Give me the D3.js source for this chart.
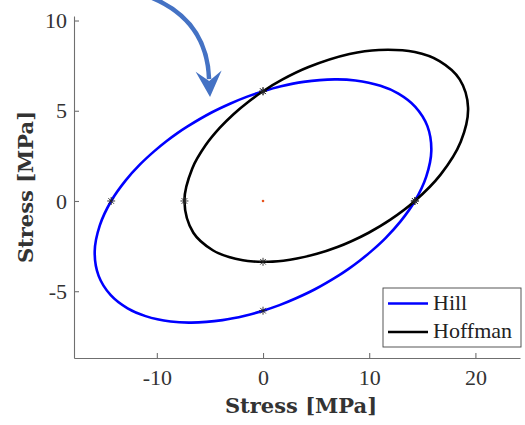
<!DOCTYPE html>
<html>
<head>
<meta charset="utf-8">
<script src="https://cdn.jsdelivr.net/npm/d3@7"></script>
<style>
  svg text { font-family: "Liberation Serif", "Times New Roman", serif !important; }
  svg text.label { font-family: "DejaVu Serif", serif !important; font-weight: bold; }
</style>
</head>
<body style="margin:0">
<svg width="525" height="425"></svg>
<script>

/* Data */
var seriesNames = ["Hill", "Hoffman"]
var seriesColors = ["#0000ff", "#000000"]

var hillPoints = [
    [14.30, 0], [15.37, 1.35], [15.85, 2.79], [15.48, 4.15], [14.34, 5.22],
    [12.75, 5.95], [11.06, 6.38], [8.70, 6.68], [6.74, 6.74], [3.81, 6.60],
    [1.70, 6.36], [0, 6.08], [-1.55, 5.77], [-3.11, 5.39], [-4.89, 4.89],
    [-7.14, 4.12], [-8.06, 3.76], [-9.10, 3.31], [-10.26, 2.75], [-11.56, 2.04],
    [-12.95, 1.13], [-14.30, 0], [-15.37, -1.35], [-15.85, -2.79], [-15.48, -4.15],
    [-14.34, -5.22], [-12.75, -5.95], [-11.06, -6.38], [-8.70, -6.68], [-6.74, -6.74],
    [-3.81, -6.60], [-1.70, -6.36], [0, -6.08], [1.55, -5.77], [3.11, -5.39],
    [4.89, -4.89], [7.14, -4.12], [8.06, -3.76], [9.10, -3.31], [10.26, -2.75],
    [11.56, -2.04], [12.95, -1.13]
]

var hoffmanPoints = [
    [14.30, 0], [16.72, 1.46], [18.62, 3.28], [19.31, 5.17], [18.52, 6.74],
    [16.62, 7.75], [14.29, 8.25], [10.91, 8.37], [8.14, 8.14], [4.29, 7.42],
    [1.80, 6.72], [0, 6.08], [-1.46, 5.46], [-2.78, 4.81], [-4.06, 4.06],
    [-5.38, 3.11], [-6.67, 1.79], [-7.40, 0], [-6.56, -1.76], [-4.73, -2.73],
    [-3.12, -3.12], [-1.90, -3.28], [-0.90, -3.35], [0, -3.37], [0.90, -3.36],
    [1.91, -3.31], [3.19, -3.19], [5.08, -2.93], [7.01, -2.55], [8.32, -2.23],
    [9.95, -1.76], [11.96, -1.05]
]

var hillMarkers = [[-14.3, 0], [14.3, 0], [0, 6.08], [0, -6.08]]
var hoffmanMarkers = [[-7.4, 0], [14.3, 0], [0, 6.08], [0, -3.37]]
var originPoint = [0, 0]

var xTicks = [-10, 0, 10, 20]
var yTicks = [-5, 0, 5, 10]
var xDomain = [-17.8, 24.2]
var yDomain = [-8.7, 10.25]
var axisLabel = "Stress [MPa]"

/* Annotation arrow (start, control, end of shaft, tip) in data units */
var arrowPath = [[-10.63, 11.3], [-5.27, 10.03], [-5.08, 6.75], [-4.99, 5.76]]

var svg = d3.select("svg")

/* Scales */
var xScale = d3.scaleLinear().domain(xDomain).range([74, 520])
var yScale = d3.scaleLinear().domain(yDomain).range([358, 16])

/* Axes */
var xAxis = d3.axisBottom(xScale)
    .tickValues(xTicks)
    .tickFormat((d) => String(d))
    .tickSizeInner(-5)
    .tickSizeOuter(0)
    .tickPadding(11)

var yAxis = d3.axisLeft(yScale)
    .tickValues(yTicks)
    .tickFormat((d) => String(d))
    .tickSizeInner(-5)
    .tickSizeOuter(0)
    .tickPadding(7)

svg.append("g")
    .attr("transform", "translate(0," + yScale.range()[0] + ")")
    .call(xAxis)
    .attr("font-size", 22)

svg.append("g")
    .attr("transform", "translate(" + xScale.range()[0] + ",0)")
    .call(yAxis)
    .attr("font-size", 22)

svg.selectAll(".domain, .tick line")
    .attr("stroke", "#6f6f6f")
    .attr("stroke-width", 1.1)

svg.selectAll(".tick text")
    .attr("fill", "#333")

/* Axis labels */
svg.append("text")
    .attr("class", "label")
    .attr("x", (xScale.range()[0] + xScale.range()[1]) / 2 + 4)
    .attr("y", 413)
    .attr("text-anchor", "middle")
    .attr("fill", "#333")
    .attr("font-size", 21)
    .text(axisLabel)

svg.append("text")
    .attr("class", "label")
    .attr("transform", "translate(33," + (yScale.range()[0] + yScale.range()[1]) / 2 + ") rotate(-90)")
    .attr("text-anchor", "middle")
    .attr("fill", "#333")
    .attr("font-size", 21)
    .text(axisLabel)

/* Curves */
var line = d3.line()
    .x((d) => xScale(d[0]))
    .y((d) => yScale(d[1]))
    .curve(d3.curveCatmullRomClosed.alpha(0.5))

var allSeries = [hillPoints, hoffmanPoints]

svg.append("g")
    .selectAll("path")
    .data(allSeries)
    .enter()
        .append("path")
            .attr("d", (d) => line(d))
            .attr("fill", "none")
            .attr("stroke", (d, i) => seriesColors[i])
            .attr("stroke-width", 2.6)
            .attr("stroke-linejoin", "round")

/* Asterisk markers */
function asterisk(sel) {
    var s = 4
    sel.append("path")
        .attr("d", "M" + (-s) + ",0H" + s + "M0," + (-s) + "V" + s +
            "M" + (-s * 0.7) + "," + (-s * 0.7) + "L" + (s * 0.7) + "," + (s * 0.7) +
            "M" + (-s * 0.7) + "," + (s * 0.7) + "L" + (s * 0.7) + "," + (-s * 0.7))
        .attr("stroke", "#222")
        .attr("stroke-width", 0.9)
        .attr("fill", "none")
}

svg.append("g")
    .selectAll("g")
    .data(hillMarkers.concat(hoffmanMarkers))
    .enter()
        .append("g")
            .attr("transform", (d) => "translate(" + xScale(d[0]) + "," + yScale(d[1]) + ")")
            .call(asterisk)

/* Origin dot */
svg.append("circle")
    .attr("cx", xScale(originPoint[0]))
    .attr("cy", yScale(originPoint[1]))
    .attr("r", 1.3)
    .attr("fill", "#e8541e")

/* Annotation arrow */
var ap = arrowPath.map((d) => [xScale(d[0]), yScale(d[1])])
svg.append("path")
    .attr("d", "M" + ap[0] + "Q" + ap[1] + " " + ap[2])
    .attr("fill", "none")
    .attr("stroke", "#4472c4")
    .attr("stroke-width", 4.5)

var tip = ap[3]
var dx = tip[0] - ap[2][0], dy = tip[1] - ap[2][1]
var len = Math.sqrt(dx * dx + dy * dy)
var ux = dx / len, uy = dy / len
var px = -uy, py = ux
var back = 26, half = 13, notch = 16
var head = [
    tip,
    [tip[0] - ux * back + px * half, tip[1] - uy * back + py * half],
    [tip[0] - ux * notch, tip[1] - uy * notch],
    [tip[0] - ux * back - px * half, tip[1] - uy * back - py * half]
]
svg.append("path")
    .attr("d", "M" + head.join("L") + "Z")
    .attr("fill", "#4472c4")

/* Legend */
var legend = svg.append("g")
    .attr("transform", "translate(383,288)")

legend.append("rect")
    .attr("width", 138)
    .attr("height", 59)
    .attr("fill", "#fff")
    .attr("stroke", "#444")
    .attr("stroke-width", 0.9)

var entries = legend.selectAll(".entry")
    .data(seriesNames)
    .enter()
        .append("g")
            .attr("class", "entry")
            .attr("transform", (d, i) => "translate(0," + (15.5 + i * 28.5) + ")")

entries.append("line")
    .attr("x1", 5)
    .attr("x2", 45)
    .attr("stroke", (d, i) => seriesColors[i])
    .attr("stroke-width", 2.6)

entries.append("text")
    .attr("x", 50)
    .attr("y", 6)
    .attr("fill", "#222")
    .attr("font-size", 22)
    .text((d) => d)

</script>
</body>
</html>
